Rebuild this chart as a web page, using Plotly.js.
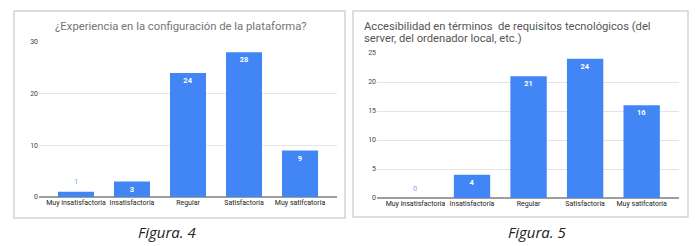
<!DOCTYPE html>
<html><head><meta charset="utf-8">
<script src="https://cdn.plot.ly/plotly-3.0.1.min.js"></script>
<style>html,body{margin:0;padding:0;background:#fff}#chart{width:700px;height:246px}</style>
</head><body><div id="chart"></div>
<script>
const categories = ["Muy insatisfactoria", "Insatisfactoria", "Regular", "Satisfactoria", "Muy satifcatoria"];
const valuesFig4 = [1, 3, 24, 28, 9];
const valuesFig5 = [0, 4, 21, 24, 16];
const titleFig4 = "¿Experiencia en la configuración de la plataforma?";
const titleFig5Lines = ["Accesibilidad en términos\u00a0 de requisitos tecnológicos (del", "server, del ordenador local, etc.)"];
const captions = ["Figura. 4", "Figura. 5"];
const ticksFig4 = [0, 10, 20, 30];
const ticksFig5 = [0, 5, 10, 15, 20, 25];

const W = 700, H = 246;
const px = x => x / W, py = y => 1 - y / H;
const BLUE = "#4285f4";
const SMALL = 2; // values below this get their label above the bar

function barTrace(vals, xa, ya) {
  return {
    type: "bar", x: categories, y: vals, xaxis: xa, yaxis: ya,
    marker: {color: BLUE},
    text: vals.map(v => v >= SMALL ? String(v) : ""), textposition: "inside", insidetextanchor: "end",
    insidetextfont: {family: "Roboto, Arial", size: 7.5, color: "#ffffff", weight: 700},
    cliponaxis: false, hoverinfo: "skip"
  };
}
function outsideLabels(vals, xa, ya) {
  const out = [];
  vals.forEach((v, i) => {
    if (v < SMALL) out.push({xref: xa, yref: ya, x: categories[i], y: v, yshift: 10, text: String(v),
      showarrow: false, xanchor: "center", yanchor: "middle",
      font: {family: "Roboto, Arial", size: 7.5, color: "#7baaf7"}});
  });
  return out;
}

const axisFont = {family: "Roboto, Arial", size: 7, color: "#444"};
function yax(domain, range, ticks) {
  return {domain, range, tickvals: ticks, showgrid: true, gridcolor: "#e4e4e4", gridwidth: 1,
    zeroline: true, zerolinecolor: "#9e9e9e", zerolinewidth: 1.5, showline: false,
    ticks: "", tickfont: axisFont, fixedrange: true};
}
function xax(domain, range, anchor) {
  return {domain, range, type: "category", anchor, showline: false, ticks: "",
    tickfont: {family: "Roboto, Arial", size: 7, color: "#222"}, showgrid: false, fixedrange: true};
}

const titleFont5 = {family: "Roboto, Arial", size: 11.2, color: "#555"};
const layout = {
  width: W, height: H, margin: {l: 0, r: 0, t: 0, b: 0},
  paper_bgcolor: "#fff", plot_bgcolor: "rgba(0,0,0,0)", showlegend: false,
  bargap: 0.357,
  xaxis: xax([px(39), px(337)], [-0.66, 4.66], "y"),
  yaxis: yax([py(197), py(42)], [0, 30], ticksFig4),
  xaxis2: xax([px(377), px(679)], [-0.68, 4.66], "y2"),
  yaxis2: Object.assign(yax([py(198), py(53)], [0, 25], ticksFig5), {anchor: "x2"}),
  shapes: [
    {type: "rect", xref: "paper", yref: "paper", x0: px(14), x1: px(345), y0: py(218), y1: py(11),
     line: {color: "#d4d4d4", width: 1.5}},
    {type: "rect", xref: "paper", yref: "paper", x0: px(353), x1: px(688), y0: py(217), y1: py(11),
     line: {color: "#d4d4d4", width: 1.5}}
  ],
  annotations: [
    {xref: "paper", yref: "paper", x: px(180.5), y: py(27), text: titleFig4, showarrow: false,
     xanchor: "center", yanchor: "middle", font: {family: "Roboto, Arial", size: 11.3, color: "#757575"}},
    {xref: "paper", yref: "paper", x: px(362), y: py(26), text: titleFig5Lines[0], showarrow: false,
     xanchor: "left", yanchor: "middle", font: titleFont5},
    {xref: "paper", yref: "paper", x: px(362), y: py(38), text: titleFig5Lines[1], showarrow: false,
     xanchor: "left", yanchor: "middle", font: titleFont5},
    {xref: "paper", yref: "paper", x: px(167), y: py(232), text: captions[0], showarrow: false,
     xanchor: "center", yanchor: "middle", font: {family: "Open Sans", size: 15, color: "#222", style: "italic"}},
    {xref: "paper", yref: "paper", x: px(537), y: py(232), text: captions[1], showarrow: false,
     xanchor: "center", yanchor: "middle", font: {family: "Open Sans", size: 15, color: "#222", style: "italic"}}
  ].concat(outsideLabels(valuesFig4, "x", "y"), outsideLabels(valuesFig5, "x2", "y2"))
};

Plotly.newPlot("chart", [barTrace(valuesFig4, "x", "y"), barTrace(valuesFig5, "x2", "y2")], layout,
  {staticPlot: true, displayModeBar: false});
</script></body></html>
